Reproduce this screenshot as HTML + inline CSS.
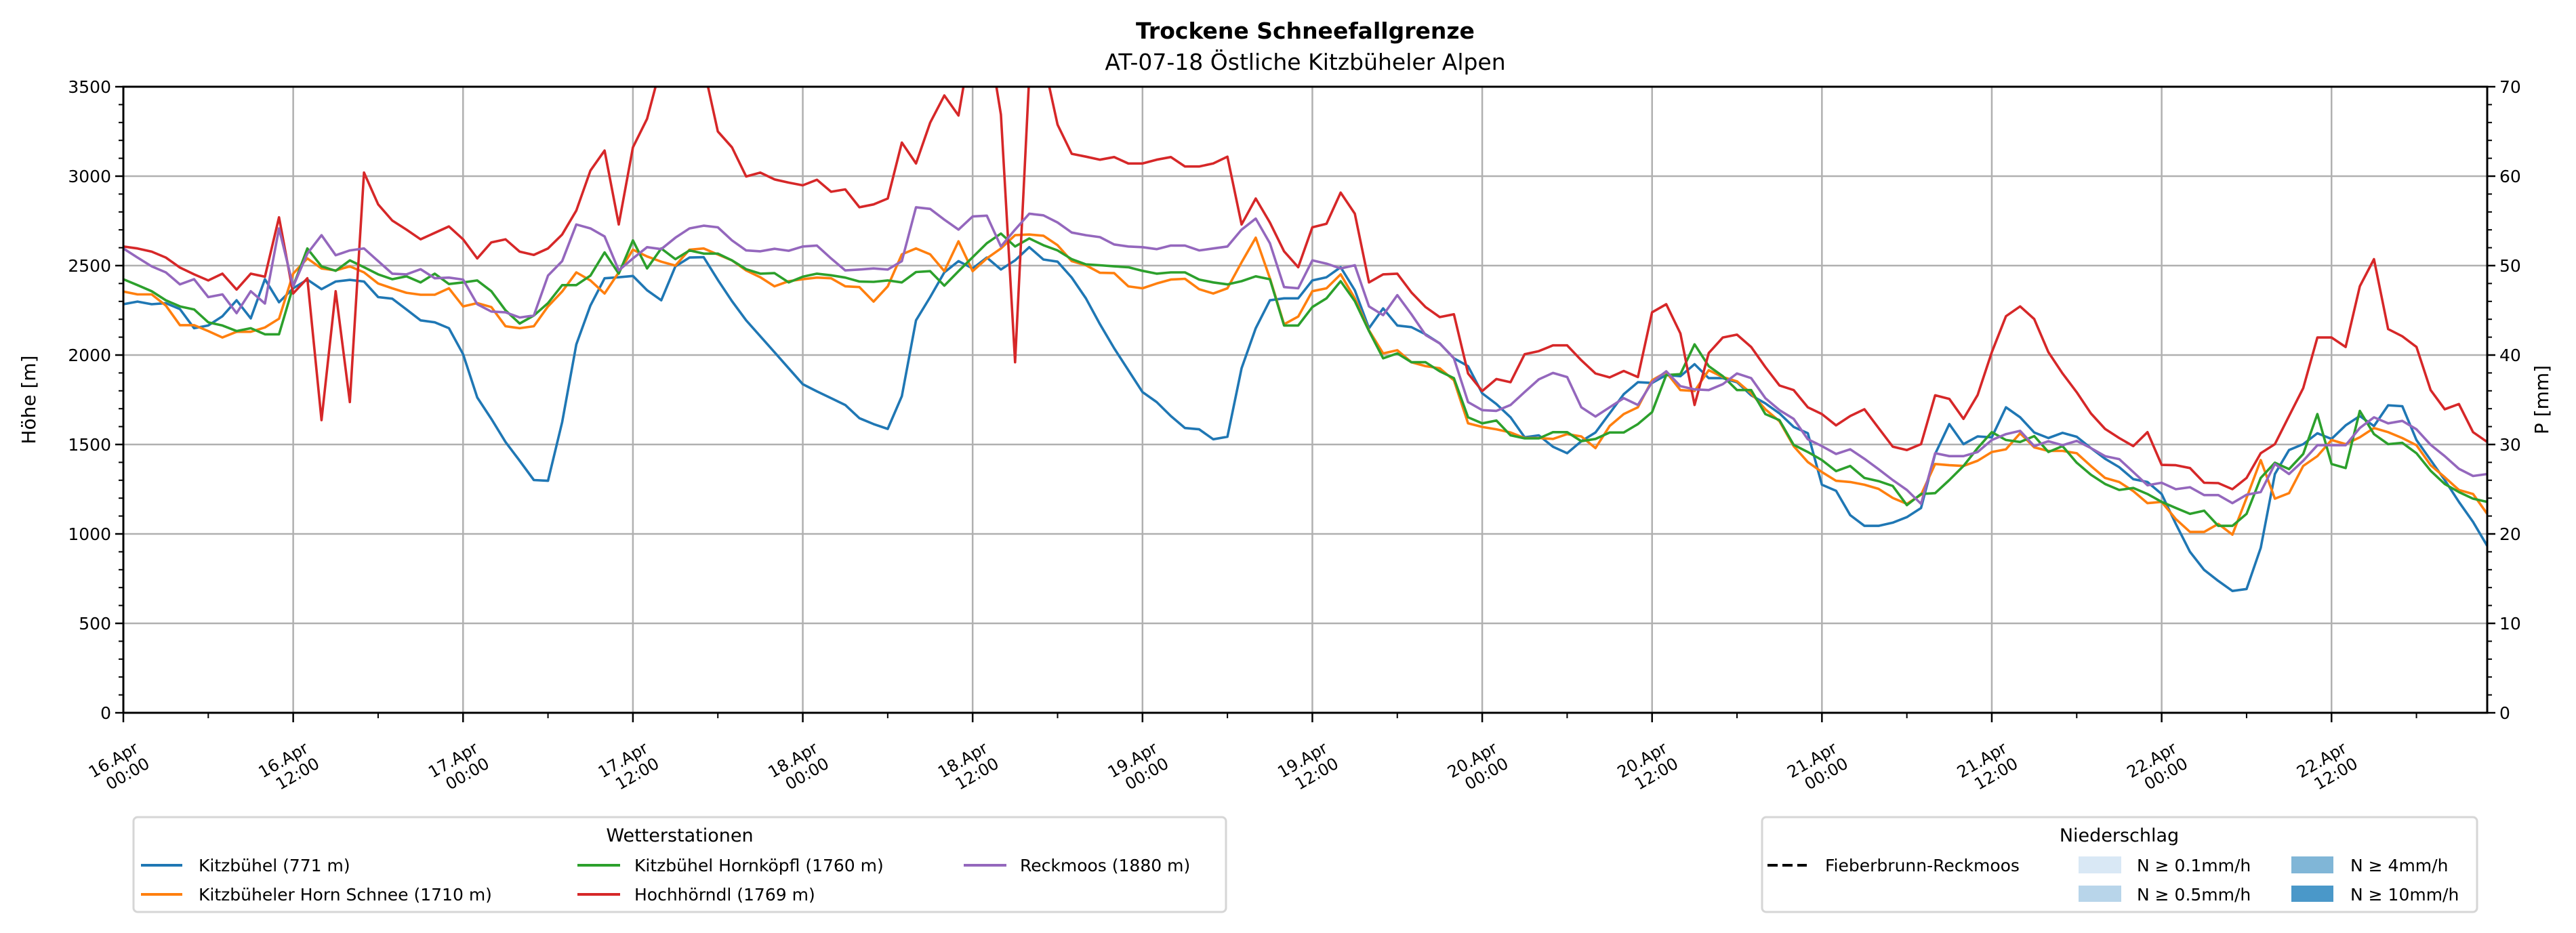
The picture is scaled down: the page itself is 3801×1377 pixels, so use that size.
<!DOCTYPE html>
<html><head><meta charset="utf-8"><style>
html,body{margin:0;padding:0;background:#fff;}
svg{display:block;font-family:"DejaVu Sans","Liberation Sans",sans-serif;}
</style></head><body>
<svg id="chart" width="3801" height="1377" viewBox="0 0 3801 1377" xmlns="http://www.w3.org/2000/svg">
<rect width="3801" height="1377" fill="#fff"/>
<text x="1926" y="57" text-anchor="middle" font-size="33" font-weight="bold">Trockene Schneefallgrenze</text>
<text x="1926" y="103" text-anchor="middle" font-size="33">AT-07-18 Östliche Kitzbüheler Alpen</text>
<defs><clipPath id="plotclip"><rect x="182" y="128" width="3488" height="924"/></clipPath></defs>
<g id="grid"></g>
<g id="series" clip-path="url(#plotclip)"></g>
<rect x="182" y="128" width="3488" height="924" fill="none" stroke="#000" stroke-width="3"/>
<g id="axes"></g>
<text transform="translate(52,590) rotate(-90)" text-anchor="middle" font-size="28">Höhe [m]</text>
<text transform="translate(3760,590) rotate(-90)" text-anchor="middle" font-size="28">P [mm]</text>

<g>
<rect x="197" y="1206" width="1612" height="140" rx="6" fill="#fff" stroke="#d6d6d6" stroke-width="3"/>
<text x="1003" y="1242" text-anchor="middle" font-size="27">Wetterstationen</text>
<g><line x1="208" x2="269" y1="1277" y2="1277" stroke="#1f77b4" stroke-width="4"/><text x="293" y="1286" font-size="25">Kitzbühel (771 m)</text></g>
<g><line x1="208" x2="269" y1="1320" y2="1320" stroke="#ff7f0e" stroke-width="4"/><text x="293" y="1329" font-size="25">Kitzbüheler Horn Schnee (1710 m)</text></g>
<g><line x1="852" x2="915" y1="1277" y2="1277" stroke="#2ca02c" stroke-width="4"/><text x="936" y="1286" font-size="25">Kitzbühel Hornköpfl (1760 m)</text></g>
<g><line x1="852" x2="915" y1="1320" y2="1320" stroke="#d62728" stroke-width="4"/><text x="936" y="1329" font-size="25">Hochhörndl (1769 m)</text></g>
<g><line x1="1422" x2="1485" y1="1277" y2="1277" stroke="#9467bd" stroke-width="4"/><text x="1505" y="1286" font-size="25">Reckmoos (1880 m)</text></g>
</g>

<g>
<rect x="2600" y="1206" width="1055" height="140" rx="6" fill="#fff" stroke="#d6d6d6" stroke-width="3"/>
<text x="3127" y="1242" text-anchor="middle" font-size="27">Niederschlag</text>
<g><line x1="2608" x2="2666" y1="1277" y2="1277" stroke="#000" stroke-width="4" stroke-dasharray="15,7"/><text x="2693" y="1286" font-size="25">Fieberbrunn-Reckmoos</text></g>
<g><rect x="3067" y="1264" width="63" height="25" fill="#d9e8f5"/><text x="3153" y="1286" font-size="25">N ≥ 0.1mm/h</text></g>
<g><rect x="3067" y="1307" width="63" height="24" fill="#b8d5ea"/><text x="3153" y="1329" font-size="25">N ≥ 0.5mm/h</text></g>
<g><rect x="3381" y="1264" width="62" height="25" fill="#80b6d7"/><text x="3468" y="1286" font-size="25">N ≥ 4mm/h</text></g>
<g><rect x="3381" y="1307" width="62" height="24" fill="#4a98c9"/><text x="3468" y="1329" font-size="25">N ≥ 10mm/h</text></g>
</g>
</svg>
<script>
const blueVals=[2284,2299,2284,2290,2257,2150,2165,2217,2306,2205,2424,2295,2373,2422,2368,2411,2420,2411,2324,2315,2255,2194,2183,2150,2005,1763,1643,1514,1409,1301,1297,1625,2060,2277,2429,2435,2442,2362,2306,2496,2545,2547,2420,2301,2194,2105,2016,1926,1837,1797,1759,1721,1647,1614,1587,1770,2194,2324,2462,2525,2484,2545,2478,2529,2603,2534,2522,2433,2317,2172,2038,1915,1793,1737,1659,1592,1585,1529,1543,1926,2150,2306,2317,2317,2417,2435,2491,2362,2150,2261,2165,2156,2116,2065,1982,1938,1786,1726,1652,1540,1551,1487,1451,1518,1567,1674,1781,1848,1844,1888,1882,1949,1871,1871,1848,1775,1730,1674,1598,1563,1275,1241,1105,1045,1045,1063,1094,1145,1447,1614,1502,1545,1540,1708,1652,1567,1536,1565,1543,1480,1420,1373,1306,1290,1223,1056,900,799,737,681,692,922,1335,1469,1502,1563,1531,1607,1659,1603,1719,1714,1525,1413,1301,1179,1067,933];
const orangeVals=[2355,2339,2339,2277,2167,2167,2134,2098,2130,2130,2154,2203,2455,2540,2484,2473,2496,2462,2400,2373,2348,2337,2337,2373,2272,2290,2268,2161,2150,2161,2272,2355,2462,2417,2344,2462,2589,2551,2522,2500,2589,2596,2562,2529,2473,2435,2384,2413,2424,2433,2429,2384,2380,2299,2384,2563,2596,2563,2469,2636,2469,2540,2596,2670,2674,2667,2614,2525,2502,2460,2458,2384,2373,2400,2422,2426,2368,2344,2373,2518,2656,2429,2172,2215,2357,2373,2451,2317,2138,2009,2027,1960,1938,1926,1859,1618,1598,1585,1567,1536,1536,1531,1558,1545,1480,1603,1670,1708,1859,1904,1804,1799,1915,1877,1853,1786,1697,1630,1491,1402,1346,1297,1290,1275,1252,1201,1168,1219,1391,1384,1380,1409,1458,1473,1563,1484,1464,1464,1451,1380,1313,1290,1239,1172,1179,1083,1011,1011,1056,996,1201,1413,1197,1228,1380,1435,1525,1502,1540,1592,1569,1536,1496,1384,1317,1246,1223,1112];
const greenVals=[2424,2391,2357,2306,2272,2255,2183,2165,2134,2150,2116,2116,2384,2596,2496,2471,2529,2491,2451,2424,2440,2406,2455,2397,2406,2417,2357,2250,2176,2221,2290,2391,2391,2444,2574,2455,2641,2484,2596,2536,2585,2567,2567,2529,2480,2455,2458,2406,2438,2455,2446,2433,2411,2409,2417,2406,2464,2469,2388,2469,2547,2625,2679,2607,2652,2614,2585,2536,2507,2502,2496,2491,2471,2455,2462,2462,2422,2406,2395,2413,2440,2424,2165,2165,2268,2317,2413,2301,2134,1982,2009,1960,1960,1909,1871,1652,1618,1634,1551,1534,1534,1569,1569,1518,1531,1567,1567,1614,1681,1888,1893,2060,1938,1882,1804,1804,1670,1636,1498,1458,1413,1351,1380,1313,1295,1268,1161,1223,1228,1301,1380,1480,1569,1525,1514,1547,1458,1491,1398,1331,1279,1246,1257,1223,1179,1145,1112,1130,1045,1045,1112,1313,1398,1362,1447,1670,1391,1368,1688,1558,1502,1509,1451,1353,1279,1234,1197,1179];
const redVals=[2607,2596,2578,2545,2489,2451,2417,2455,2366,2455,2438,2770,2344,2429,1636,2357,1737,3020,2842,2752,2701,2647,2683,2719,2647,2540,2630,2647,2578,2560,2596,2674,2808,3031,3143,2730,3161,3321,3620,3700,3680,3610,3250,3161,2998,3020,2982,2964,2949,2980,2913,2926,2826,2842,2875,3188,3071,3299,3451,3339,3800,3830,3344,1960,3560,3650,3288,3125,3109,3092,3107,3071,3071,3092,3107,3054,3054,3071,3109,2730,2875,2741,2580,2491,2714,2734,2908,2790,2406,2451,2455,2350,2268,2212,2228,1897,1799,1866,1848,2005,2022,2054,2054,1971,1897,1875,1911,1877,2239,2284,2121,1721,2011,2098,2114,2045,1933,1830,1804,1708,1670,1607,1659,1697,1592,1488,1469,1502,1775,1755,1643,1777,2016,2217,2272,2201,2016,1897,1792,1674,1587,1536,1491,1569,1386,1384,1368,1286,1284,1250,1313,1451,1502,1659,1815,2098,2098,2045,2384,2536,2145,2105,2045,1804,1697,1726,1569,1514];
const purpleVals=[2596,2545,2496,2462,2395,2424,2324,2339,2234,2357,2288,2708,2384,2567,2670,2558,2585,2596,2525,2455,2451,2480,2429,2433,2422,2284,2243,2239,2210,2221,2444,2525,2730,2708,2663,2473,2540,2603,2592,2656,2708,2723,2714,2641,2585,2580,2594,2583,2607,2612,2540,2473,2478,2484,2478,2525,2826,2817,2757,2701,2775,2779,2607,2701,2790,2781,2741,2685,2670,2659,2618,2607,2603,2592,2612,2612,2585,2596,2607,2701,2763,2625,2380,2373,2529,2511,2484,2502,2272,2223,2335,2228,2112,2065,1982,1737,1692,1688,1721,1793,1864,1900,1877,1708,1656,1708,1759,1721,1848,1909,1826,1808,1804,1837,1897,1871,1759,1692,1643,1529,1491,1447,1473,1420,1362,1301,1246,1168,1451,1435,1435,1458,1525,1558,1576,1491,1518,1496,1520,1480,1435,1418,1346,1272,1286,1250,1261,1217,1217,1172,1219,1234,1391,1335,1409,1496,1496,1496,1592,1652,1618,1632,1585,1498,1435,1364,1324,1335];
const yTicks=[0,500,1000,1500,2000,2500,3000,3500];
const y2Ticks=[0,10,20,30,40,50,60,70];
const xTickDays=["16.Apr","16.Apr","17.Apr","17.Apr","18.Apr","18.Apr","19.Apr","19.Apr","20.Apr","20.Apr","21.Apr","21.Apr","22.Apr","22.Apr"];
const xTickTimes=["00:00","12:00","00:00","12:00","00:00","12:00","00:00","12:00","00:00","12:00","00:00","12:00","00:00","12:00"];

const NS="http://www.w3.org/2000/svg";
const L=182,R=3670,T=128,B=1052,HMAX=167,YMAX=3500,Y2MAX=70;
const xs=h=>L+h*(R-L)/HMAX;
const ys=v=>B-v*(B-T)/YMAX;
const ys2=v=>B-v*(B-T)/Y2MAX;
function mk(tag,attrs,parent){const e=document.createElementNS(NS,tag);for(const k in attrs)e.setAttribute(k,attrs[k]);parent.appendChild(e);return e;}
const grid=document.getElementById('grid'),axes=document.getElementById('axes'),series=document.getElementById('series');

yTicks.forEach((v,i)=>{
  const y=ys(v);
  if(v>0&&v<YMAX){const g=mk('line',{x1:L,x2:R,y1:y,y2:y,stroke:'#b0b0b0','stroke-width':2.5},grid);
  
  }
  mk('line',{x1:L-12,x2:L,y1:y,y2:y,stroke:'#000','stroke-width':2.5},axes);
  const t=mk('text',{x:L-18,y:y+9,'text-anchor':'end','font-size':25},axes);
  t.textContent=v;
  
  
});
for(let v=100;v<YMAX;v+=100){if(v%500)mk('line',{x1:L-7,x2:L,y1:ys(v),y2:ys(v),stroke:'#000','stroke-width':2},axes);}
y2Ticks.forEach(v=>{
  const y=ys2(v);
  mk('line',{x1:R,x2:R+12,y1:y,y2:y,stroke:'#000','stroke-width':2.5},axes);
  const t=mk('text',{x:R+18,y:y+9,'font-size':25},axes);
  t.textContent=v;
  
  
});
for(let v=2;v<Y2MAX;v+=2){if(v%10)mk('line',{x1:R,x2:R+7,y1:ys2(v),y2:ys2(v),stroke:'#000','stroke-width':2},axes);}

xTickDays.forEach((d,i)=>{
  const h=i*12,x=xs(h);
  if(h>0){const g=mk('line',{x1:x,x2:x,y1:T,y2:B,stroke:'#b0b0b0','stroke-width':2.5},grid);
  
  }
  mk('line',{x1:x,x2:x,y1:B,y2:B+14,stroke:'#000','stroke-width':2.5},axes);
  const g=mk('g',{transform:`translate(${x-4},${B+80}) rotate(-30)`},axes);
  
  
  const t1=mk('text',{x:-4,y:-6,'text-anchor':'middle','font-size':24},g);t1.textContent=d;
  const t2=mk('text',{x:4,y:22,'text-anchor':'middle','font-size':24},g);t2.textContent=xTickTimes[i];
});
for(let h=6;h<=HMAX;h+=12)mk('line',{x1:xs(h),x2:xs(h),y1:B,y2:B+8,stroke:'#000','stroke-width':2},axes);

const seriesDefs=[[blueVals,'#1f77b4','line-kitzbuehel'],[orangeVals,'#ff7f0e','line-kitzbueheler-horn'],[greenVals,'#2ca02c','line-hornkoepfl'],[redVals,'#d62728','line-hochhoerndl'],[purpleVals,'#9467bd','line-reckmoos']];
seriesDefs.forEach(([vals,col,name])=>{
  const p=mk('polyline',{points:vals.map((v,i)=>xs(i).toFixed(1)+','+ys(v).toFixed(1)).join(' '),fill:'none',stroke:col,'stroke-width':3.6,'stroke-linejoin':'round'},series);
  
  
});
</script>
</body></html>
